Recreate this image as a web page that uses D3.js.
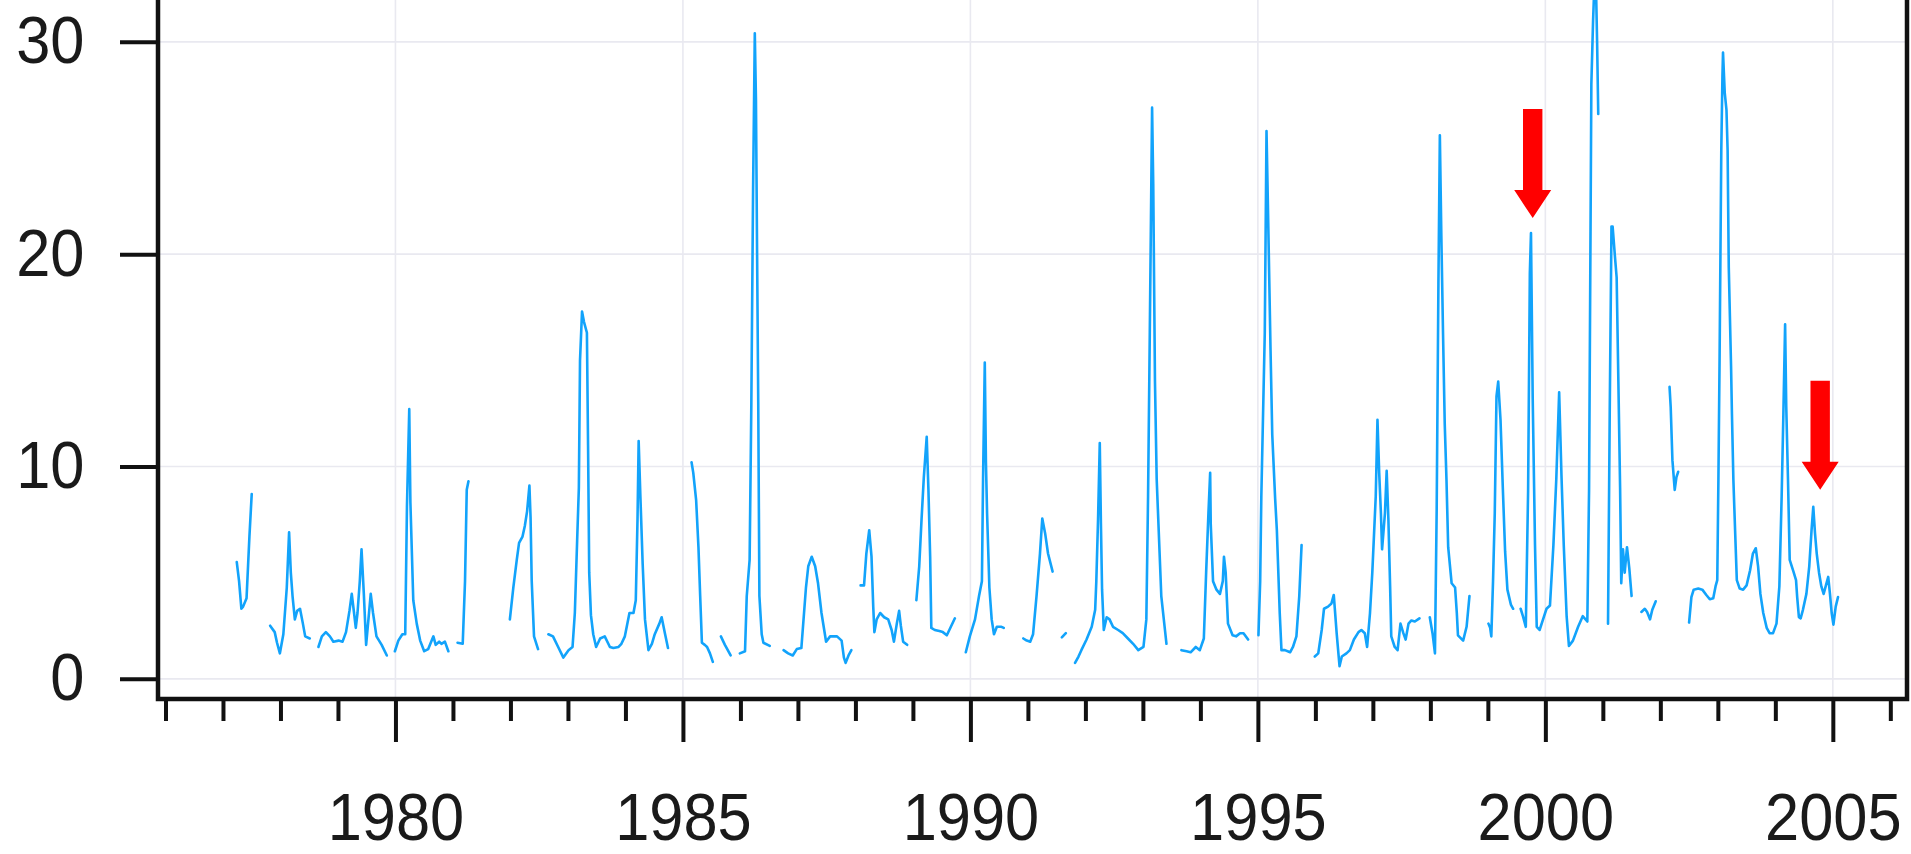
<!DOCTYPE html>
<html>
<head>
<meta charset="utf-8">
<script src="https://cdn.jsdelivr.net/npm/d3@7"></script>
<style>
    html, body { margin: 0; padding: 0; background: #fff; overflow: hidden; }
    #chart { width: 1911px; height: 854px; }
    .axis text { font-family: "Liberation Sans", Arial, sans-serif; font-size: 66px; fill: #1a1a1a; }
</style>
</head>
<body>
<div id="chart"></div>
<script>
"use strict";

// [decimal year, value] pairs, one array per unbroken stretch of the record
var seg1977a = [[1977.24, 5.5], [1977.28, 4.6], [1977.32, 3.3], [1977.35, 3.4], [1977.41, 3.8], [1977.46, 6.7], [1977.50, 8.7]];
var seg1977b = [[1977.82, 2.5], [1977.90, 2.2], [1977.94, 1.7], [1977.99, 1.2], [1978.05, 2.1], [1978.11, 4.3], [1978.15, 6.9], [1978.18, 5.0],
    [1978.21, 3.9], [1978.25, 2.8], [1978.29, 3.2], [1978.34, 3.3], [1978.39, 2.6], [1978.43, 2.0], [1978.51, 1.9]];
var seg1978 = [[1978.66, 1.5], [1978.72, 2.0], [1978.79, 2.2], [1978.86, 2.0], [1978.92, 1.75], [1979.01, 1.8], [1979.08, 1.75], [1979.14, 2.2],
    [1979.20, 3.2], [1979.24, 4.0], [1979.28, 3.1], [1979.31, 2.4], [1979.34, 3.1], [1979.38, 4.6], [1979.41, 6.1], [1979.45, 4.0],
    [1979.49, 1.6], [1979.53, 2.8], [1979.57, 4.0], [1979.61, 3.1], [1979.67, 2.0], [1979.76, 1.6], [1979.85, 1.1]];
var seg1980 = [[1979.99, 1.3], [1980.05, 1.8], [1980.12, 2.1], [1980.17, 2.1], [1980.20, 8.1], [1980.24, 12.7], [1980.26, 8.3], [1980.31, 3.7],
    [1980.37, 2.6], [1980.43, 1.8], [1980.50, 1.3], [1980.57, 1.4], [1980.63, 1.8], [1980.66, 2.0], [1980.70, 1.6], [1980.76, 1.75],
    [1980.80, 1.65], [1980.86, 1.75], [1980.92, 1.3]];
var seg1981 = [[1981.08, 1.7], [1981.17, 1.65], [1981.21, 4.6], [1981.24, 8.9], [1981.27, 9.3]];
var seg1982a = [[1981.99, 2.8], [1982.05, 4.3], [1982.11, 5.6], [1982.15, 6.4], [1982.21, 6.7], [1982.25, 7.2], [1982.29, 7.9], [1982.33, 9.1],
    [1982.35, 7.6], [1982.37, 4.6], [1982.41, 2.0], [1982.48, 1.4]];
var seg1982b = [[1982.66, 2.1], [1982.74, 2.0], [1982.83, 1.5], [1982.92, 1.0], [1983.01, 1.35], [1983.08, 1.5], [1983.12, 3.1], [1983.16, 6.5],
    [1983.19, 9.0], [1983.21, 15.0], [1983.245, 17.3], [1983.28, 16.8], [1983.33, 16.3], [1983.35, 11.0], [1983.37, 5.0], [1983.40, 3.0],
    [1983.44, 2.1], [1983.49, 1.5], [1983.56, 1.9], [1983.64, 2.0], [1983.73, 1.5], [1983.79, 1.45], [1983.88, 1.5], [1983.93, 1.65],
    [1983.99, 2.0], [1984.07, 3.1], [1984.14, 3.1], [1984.18, 3.7], [1984.21, 7.5], [1984.23, 11.2], [1984.26, 8.6], [1984.30, 5.4],
    [1984.34, 2.8], [1984.40, 1.35], [1984.46, 1.65], [1984.51, 2.1], [1984.59, 2.6], [1984.63, 2.9], [1984.69, 2.1], [1984.74, 1.45]];
var seg1985a = [[1985.15, 10.2], [1985.18, 9.7], [1985.23, 8.4], [1985.27, 6.2], [1985.30, 3.9], [1985.33, 1.7], [1985.38, 1.6], [1985.42, 1.5],
    [1985.47, 1.2], [1985.52, 0.8]];
var seg1985b = [[1985.66, 2.0], [1985.73, 1.6], [1985.83, 1.1]];
var seg1986 = [[1985.99, 1.2], [1986.08, 1.3], [1986.11, 3.9], [1986.16, 5.6], [1986.19, 13.0], [1986.22, 23.0], [1986.25, 30.4], [1986.27, 27.3],
    [1986.29, 20.0], [1986.31, 13.0], [1986.33, 3.9], [1986.37, 2.1], [1986.40, 1.7], [1986.51, 1.55]];
var seg1987 = [[1986.75, 1.35], [1986.83, 1.2], [1986.91, 1.1], [1986.98, 1.4], [1987.06, 1.45], [1987.14, 4.3], [1987.18, 5.3], [1987.24, 5.75],
    [1987.30, 5.3], [1987.35, 4.5], [1987.41, 3.1], [1987.49, 1.75], [1987.56, 2.0], [1987.61, 2.0], [1987.68, 2.0], [1987.76, 1.8],
    [1987.80, 1.0], [1987.83, 0.75], [1987.88, 1.1], [1987.93, 1.35]];
var seg1988 = [[1988.09, 4.4], [1988.15, 4.4], [1988.19, 5.9], [1988.24, 7.0], [1988.28, 5.75], [1988.31, 3.4], [1988.33, 2.2], [1988.37, 2.8],
    [1988.43, 3.1], [1988.50, 2.9], [1988.57, 2.8], [1988.63, 2.3], [1988.67, 1.75], [1988.72, 2.6], [1988.76, 3.2], [1988.79, 2.5],
    [1988.83, 1.75], [1988.90, 1.6]];
var seg1989 = [[1989.06, 3.7], [1989.11, 5.3], [1989.15, 7.5], [1989.19, 9.5], [1989.24, 11.4], [1989.27, 8.9], [1989.30, 5.75], [1989.32, 2.4],
    [1989.38, 2.3], [1989.46, 2.25], [1989.52, 2.2], [1989.59, 2.05], [1989.66, 2.45], [1989.73, 2.85]];
var seg1990 = [[1989.92, 1.25], [1989.99, 2.0], [1990.08, 2.8], [1990.15, 3.9], [1990.20, 4.6], [1990.22, 9.4], [1990.25, 14.9], [1990.27, 10.2],
    [1990.29, 7.8], [1990.33, 4.3], [1990.37, 2.8], [1990.41, 2.1], [1990.46, 2.45], [1990.54, 2.45], [1990.58, 2.4]];
var seg1991a = [[1990.92, 1.9], [1990.98, 1.8], [1991.04, 1.75], [1991.09, 2.1], [1991.15, 3.9], [1991.21, 5.9], [1991.25, 7.55], [1991.30, 6.85],
    [1991.35, 5.9], [1991.43, 5.05]];
var seg1991b = [[1991.59, 1.95], [1991.66, 2.15]];
var seg1992 = [[1991.82, 0.75], [1991.88, 1.05], [1991.93, 1.35], [1992.02, 1.85], [1992.11, 2.45], [1992.17, 3.25], [1992.19, 4.6], [1992.22, 7.5],
    [1992.25, 11.1], [1992.27, 7.3], [1992.29, 4.2], [1992.32, 2.3], [1992.37, 2.9], [1992.42, 2.8], [1992.48, 2.45], [1992.57, 2.3],
    [1992.65, 2.15], [1992.74, 1.9], [1992.83, 1.65], [1992.92, 1.35], [1993.01, 1.5], [1993.06, 2.8], [1993.09, 8.6], [1993.12, 16.3],
    [1993.16, 26.9], [1993.18, 23.3], [1993.21, 14.0], [1993.24, 9.4], [1993.32, 3.9], [1993.41, 1.65]];
var seg1993 = [[1993.67, 1.35], [1993.76, 1.3], [1993.83, 1.25], [1993.92, 1.5], [1993.99, 1.35], [1994.06, 1.9], [1994.10, 5.0], [1994.14, 7.8],
    [1994.17, 9.7], [1994.18, 7.3], [1994.22, 4.6], [1994.28, 4.2], [1994.34, 4.0], [1994.39, 4.6], [1994.41, 5.75], [1994.44, 5.0],
    [1994.48, 2.6], [1994.56, 2.05], [1994.62, 2.0], [1994.69, 2.15], [1994.75, 2.15], [1994.83, 1.85]];
var seg1995 = [[1995.01, 2.05], [1995.04, 4.6], [1995.06, 8.6], [1995.12, 16.3], [1995.15, 25.8], [1995.18, 21.5], [1995.22, 15.5], [1995.25, 11.5],
    [1995.30, 8.5], [1995.33, 7.0], [1995.38, 3.1], [1995.41, 1.35], [1995.47, 1.35], [1995.56, 1.25], [1995.61, 1.5], [1995.67, 2.0],
    [1995.72, 3.9], [1995.76, 6.3]];
var seg1996 = [[1995.99, 1.05], [1996.05, 1.2], [1996.11, 2.3], [1996.15, 3.3], [1996.22, 3.4], [1996.28, 3.55], [1996.32, 3.95], [1996.37, 2.15],
    [1996.42, 0.6], [1996.46, 1.05], [1996.54, 1.2], [1996.60, 1.35], [1996.67, 1.85], [1996.75, 2.2], [1996.80, 2.3], [1996.86, 2.15],
    [1996.90, 1.5], [1996.95, 3.1], [1996.99, 5.0], [1997.05, 8.6], [1997.08, 12.2], [1997.11, 9.7], [1997.14, 7.8], [1997.16, 6.1],
    [1997.21, 7.8], [1997.24, 9.8], [1997.27, 7.5], [1997.30, 4.35], [1997.32, 2.0], [1997.38, 1.5], [1997.43, 1.35], [1997.48, 2.6],
    [1997.53, 2.15], [1997.57, 1.85], [1997.62, 2.6], [1997.67, 2.75], [1997.73, 2.7], [1997.81, 2.85]];
var seg1998 = [[1997.99, 2.9], [1998.04, 2.1], [1998.08, 1.2], [1998.11, 8.0], [1998.14, 18.6], [1998.165, 25.6], [1998.19, 21.0], [1998.22, 16.3],
    [1998.25, 12.0], [1998.28, 9.4], [1998.31, 6.2], [1998.37, 4.5], [1998.43, 4.3], [1998.46, 3.1], [1998.48, 2.05], [1998.57, 1.8],
    [1998.63, 2.45], [1998.68, 3.9]];
var seg1999a = [[1999.01, 2.6], [1999.04, 2.4], [1999.06, 2.0], [1999.09, 4.6], [1999.12, 7.8], [1999.15, 13.3], [1999.18, 14.0], [1999.22, 12.2],
    [1999.26, 9.0], [1999.30, 6.0], [1999.34, 4.2], [1999.40, 3.5], [1999.44, 3.3]];
var seg1999b = [[1999.57, 3.3], [1999.61, 2.95], [1999.66, 2.45], [1999.70, 8.85], [1999.73, 19.1], [1999.75, 21.0], [1999.78, 13.2], [1999.82, 6.3],
    [1999.85, 2.45], [1999.90, 2.3], [1999.96, 2.8], [2000.02, 3.3], [2000.08, 3.45], [2000.14, 6.3], [2000.19, 9.4], [2000.24, 13.5],
    [2000.28, 9.6], [2000.32, 6.3], [2000.37, 2.95], [2000.41, 1.55], [2000.48, 1.8], [2000.57, 2.45], [2000.65, 2.95], [2000.73, 2.7],
    [2000.76, 8.85], [2000.80, 28.0], [2000.83, 31.0], [2000.87, 34.0], [2000.90, 30.0], [2000.92, 26.6]];
var seg2001a = [[2001.09, 2.6], [2001.12, 12.7], [2001.15, 21.3], [2001.17, 21.3], [2001.21, 19.9], [2001.24, 18.9], [2001.27, 14.0], [2001.30, 9.0],
    [2001.32, 4.5], [2001.35, 6.1], [2001.38, 5.0], [2001.42, 6.2], [2001.46, 5.2], [2001.50, 3.9]];
var seg2001b = [[2001.67, 3.15], [2001.73, 3.3], [2001.77, 3.15], [2001.82, 2.8], [2001.86, 3.25], [2001.92, 3.65]];
var seg2002a = [[2002.16, 13.75], [2002.18, 12.8], [2002.21, 10.3], [2002.25, 8.9], [2002.28, 9.5], [2002.31, 9.75]];
var seg2002b = [[2002.50, 2.65], [2002.54, 3.85], [2002.58, 4.2], [2002.66, 4.25], [2002.73, 4.2], [2002.80, 3.95], [2002.86, 3.75], [2002.92, 3.8],
    [2002.96, 4.35], [2002.99, 4.65], [2003.01, 9.4], [2003.03, 15.0], [2003.06, 24.9], [2003.08, 28.4], [2003.09, 29.5], [2003.12, 27.6],
    [2003.15, 26.8], [2003.17, 24.9], [2003.19, 19.4], [2003.23, 14.7], [2003.245, 12.5], [2003.27, 9.4], [2003.30, 7.0], [2003.33, 4.65],
    [2003.38, 4.25], [2003.44, 4.2], [2003.50, 4.4], [2003.56, 5.1], [2003.61, 5.9], [2003.66, 6.15], [2003.70, 5.3], [2003.74, 4.0],
    [2003.79, 3.1], [2003.85, 2.4], [2003.90, 2.15], [2003.96, 2.15], [2004.02, 2.6], [2004.07, 4.35], [2004.11, 8.6], [2004.14, 12.5],
    [2004.17, 16.7], [2004.19, 12.8], [2004.22, 9.4], [2004.25, 5.6], [2004.31, 5.1], [2004.36, 4.65], [2004.38, 3.85], [2004.41, 2.9],
    [2004.44, 2.85], [2004.48, 3.25], [2004.54, 4.0], [2004.59, 5.3], [2004.63, 7.0], [2004.66, 8.1], [2004.69, 6.85], [2004.72, 5.9],
    [2004.76, 5.0], [2004.80, 4.35], [2004.84, 4.0], [2004.88, 4.4], [2004.92, 4.8], [2004.95, 4.0], [2004.98, 3.1], [2005.01, 2.55],
    [2005.05, 3.4], [2005.09, 3.85]];

var segments = [seg1977a, seg1977b, seg1978, seg1980, seg1981, seg1982a, seg1982b, seg1985a, seg1985b, seg1986, seg1987,
    seg1988, seg1989, seg1990, seg1991a, seg1991b, seg1992, seg1993, seg1995, seg1996, seg1998, seg1999a,
    seg1999b, seg2001a, seg2001b, seg2002a, seg2002b];

// axes
var yTickValues = [0, 10, 20, 30];
var yearTicks = [1976, 1977, 1978, 1979, 1980, 1981, 1982, 1983, 1984, 1985, 1986, 1987, 1988, 1989, 1990, 1991,
    1992, 1993, 1994, 1995, 1996, 1997, 1998, 1999, 2000, 2001, 2002, 2003, 2004, 2005, 2006];
var labelYears = [1980, 1985, 1990, 1995, 2000, 2005];
var xDomain = [1975.87, 2006.29];
var yDomain = [-0.95, 31.97];

// red arrows: where the tip points
var arrowYears = [1999.78, 2004.78];
var arrowTipValues = [21.7, 8.9];

function draw() {
    var width = 1911;
    var height = 854;

    // plot frame (top edge is cut off in the original picture)
    var frame = { left: 158, right: 1907, top: 0, bottom: 699 };

    var xScale = d3.scaleLinear().domain(xDomain).range([frame.left, frame.right]);
    var yScale = d3.scaleLinear().domain(yDomain).range([frame.bottom, frame.top]);

    var svg = d3.select("#chart").append("svg")
        .attr("width", width)
        .attr("height", height)
        .style("display", "block");

    // grid
    var grid = svg.append("g").attr("class", "grid")
        .attr("stroke", "#e9e9f0")
        .attr("stroke-width", 1.6);

    grid.selectAll(".hgrid")
        .data(yTickValues)
        .enter()
        .append("line")
        .attr("x1", frame.left)
        .attr("x2", frame.right)
        .attr("y1", function (d) { return yScale(d); })
        .attr("y2", function (d) { return yScale(d); });

    grid.selectAll(".vgrid")
        .data(labelYears)
        .enter()
        .append("line")
        .attr("x1", function (d) { return xScale(d); })
        .attr("x2", function (d) { return xScale(d); })
        .attr("y1", frame.top)
        .attr("y2", frame.bottom);

    // series, one path per unbroken stretch
    var line = d3.line()
        .x(function (d) { return xScale(d[0]); })
        .y(function (d) { return yScale(d[1]); });

    svg.append("g")
        .attr("class", "series")
        .selectAll("path")
        .data(segments)
        .enter()
        .append("path")
        .attr("d", line)
        .attr("fill", "none")
        .attr("stroke", "#12a3fb")
        .attr("stroke-width", 2.6)
        .attr("stroke-linejoin", "round")
        .attr("stroke-linecap", "round");

    // arrows
    var shaftHalf = 9.7, shaftLength = 81, headHalf = 18.5, headLength = 28;
    svg.append("g")
        .attr("class", "arrows")
        .selectAll("path")
        .data(arrowYears)
        .enter()
        .append("path")
        .attr("fill", "#ff0000")
        .attr("d", function (d, i) {
            var tx = xScale(d);
            var ty = yScale(arrowTipValues[i]);
            var base = ty - headLength;
            return "M" + (tx - shaftHalf) + "," + (base - shaftLength) +
                "L" + (tx + shaftHalf) + "," + (base - shaftLength) +
                "L" + (tx + shaftHalf) + "," + base +
                "L" + (tx + headHalf) + "," + base +
                "L" + tx + "," + ty +
                "L" + (tx - headHalf) + "," + base +
                "L" + (tx - shaftHalf) + "," + base + "Z";
        });

    // x-axis: a tick every year, longer ones with labels every five years
    var xAxis = d3.axisBottom(xScale)
        .tickValues(yearTicks)
        .tickSizeInner(22)
        .tickSizeOuter(0)
        .tickFormat(function (d) { return labelYears.indexOf(d) >= 0 ? String(d) : ""; });

    var gx = svg.append("g")
        .attr("class", "x axis")
        .attr("transform", "translate(0," + frame.bottom + ")")
        .call(xAxis);

    gx.select(".domain").remove();
    gx.selectAll(".tick line")
        .attr("stroke", "#111")
        .attr("stroke-width", 4)
        .attr("y2", function (d) { return labelYears.indexOf(d) >= 0 ? 43 : 22; });
    gx.selectAll(".tick text")
        .attr("y", null)
        .attr("dy", null)
        .attr("transform", "translate(0,141) scale(0.93,1)");

    // y-axis
    var yAxis = d3.axisLeft(yScale)
        .tickValues(yTickValues)
        .tickSizeInner(38)
        .tickSizeOuter(0)
        .tickFormat(d3.format("d"));

    var gy = svg.append("g")
        .attr("class", "y axis")
        .attr("transform", "translate(" + frame.left + ",0)")
        .call(yAxis);

    gy.select(".domain").remove();
    gy.selectAll(".tick line")
        .attr("stroke", "#111")
        .attr("stroke-width", 4);
    gy.selectAll(".tick text")
        .attr("x", null)
        .attr("transform", "translate(-73.5,0) scale(0.93,1)");

    // frame lines: left, bottom, right
    svg.append("path")
        .attr("d", "M" + frame.left + "," + (frame.top - 10) +
            "L" + frame.left + "," + frame.bottom +
            "L" + frame.right + "," + frame.bottom +
            "L" + frame.right + "," + (frame.top - 10))
        .attr("fill", "none")
        .attr("stroke", "#111")
        .attr("stroke-width", 4.5)
        .attr("stroke-linejoin", "miter");
}

draw();
</script>
</body>
</html>
